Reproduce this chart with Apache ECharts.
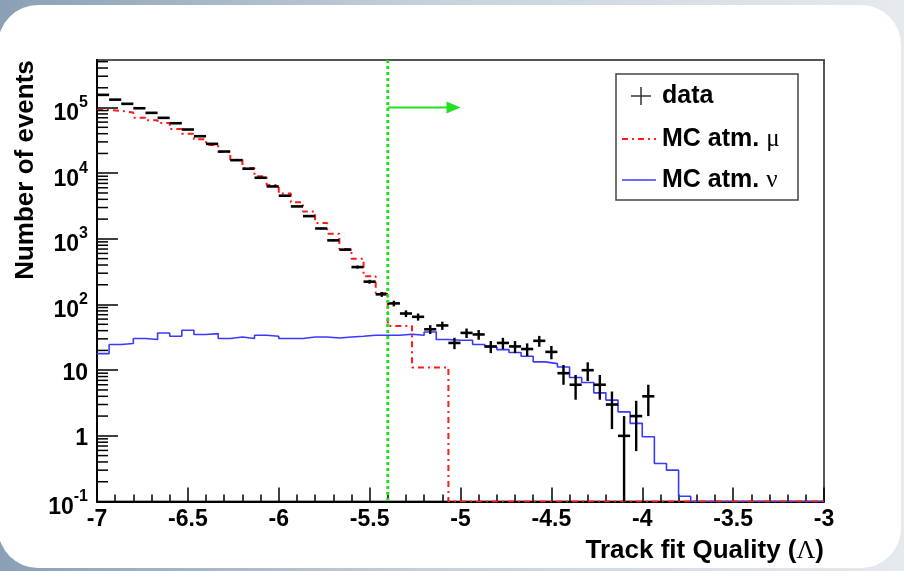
<!DOCTYPE html>
<html><head><meta charset="utf-8">
<script src="https://cdn.jsdelivr.net/npm/echarts@6/dist/echarts.min.js"></script>
<style>html,body{margin:0;padding:0;background:#fff}#c{width:904px;height:571px}</style>
</head><body><div id="c"></div>
<script>
// ---- histogram definition ----
const xMin = -7, xMax = -3, nBins = 60;
const yMin = 0.1, yMax = 5.3e5;
// ---- data (counts per bin) ----
const dataCounts = [156000,132000,114000,97600,83000,69700,57700,46300,36600,28000,
  21400,15800,11700,8530,6290,4540,3120,2220,1440,949,
  685,372,223,143,104,73,65,42,48,26,
  37,35,23,26,23,21,28,19,9,6,
  10,6,3,1,2,4,0,0,0,0,
  0,0,0,0,0,0,0,0,0,0];
const mcMu = [92000,89000,84000,70000,64000,58000,47000,40000,33000,27000,
  21000,16000,12000,9000,6600,4900,3600,2600,1750,1200,
  700,500,270,150,47,47,11,11,11,0,
  0,0,0,0,0,0,0,0,0,0,
  0,0,0,0,0,0,0,0,0,0,
  0,0,0,0,0,0,0,0,0,0];
const mcNu = [17.9,24.6,25.5,30.3,29.3,36.9,32.9,40.6,34.9,36.1,
  30.3,32.1,30.3,34.1,32.9,30.3,30.3,32.1,32.1,31.0,
  32.1,32.9,34.1,34.1,34.1,35.3,34.1,38.2,29.3,28.5,
  28.5,24.6,22.6,20.6,18.6,16.3,13.4,12.6,11.2,7.74,
  6.5,4.52,3.5,2.32,1.55,0.97,0.38,0.30,0.12,0,
  0,0,0,0,0,0,0,0,0,0];
const cutValue = -5.4, arrowEnd = -5.0, arrowLevel = 1e5;
const legendLabels = ['data', 'MC atm. ', 'μ', 'MC atm. ', 'ν'];
const xTitleParts = ['Track fit Quality (', 'Λ', ')'];
const yTitle = 'Number of events';

const FONT = 'Liberation Sans, Arial, Helvetica, sans-serif';
const SERIF = 'Liberation Serif, DejaVu Serif, serif';
const edges = [];
for (let i = 0; i <= nBins; i++) edges.push(xMin + i * (xMax - xMin) / nBins);
const clampY = v => (v > yMin ? v : yMin);
function stepData(vals) {
  const d = vals.map((v, i) => [edges[i], clampY(v)]);
  d.push([edges[nBins], clampY(vals[nBins - 1])]);
  return d;
}
const minorVals = [];
for (let e = -1; e <= 5; e++) for (let m = 2; m <= 9; m++) { const v = m * Math.pow(10, e); if (v < yMax) minorVals.push(v); }

const chart = echarts.init(document.getElementById('c'), null, {renderer: 'canvas'});
const option = {
  animation: false,
  grid: {left: 97, right: 80, top: 60, bottom: 69.5, show: true, borderColor: '#555', borderWidth: 2, backgroundColor: 'transparent'},
  xAxis: {
    type: 'value', min: xMin, max: xMax, interval: 0.5,
    axisLine: {show: true, onZero: false, lineStyle: {color: '#000', width: 2}},
    axisTick: {show: true, inside: true, length: 14, lineStyle: {color: '#000', width: 1.5}},
    minorTick: {show: true, splitNumber: 5, length: 7, lineStyle: {color: '#000', width: 1.5}},
    splitLine: {show: false},
    axisLabel: {fontFamily: FONT, fontWeight: 'bold', fontSize: 23, color: '#000', margin: 7}
  },
  yAxis: {
    type: 'log', logBase: 10, min: yMin, max: yMax,
    axisLine: {show: true, lineStyle: {color: '#000', width: 2}},
    axisTick: {show: true, inside: true, length: 21, lineStyle: {color: '#000', width: 1.5}},
    splitLine: {show: false},
    axisLabel: {
      margin: 9, showMaxLabel: false, color: '#000',
      formatter: v => {
        const e = Math.round(Math.log10(v));
        if (e === 0) return '{p|1}';
        if (e === 1) return '{p|10}';
        return '{b|10}{s|' + e + '}';
      },
      rich: {
        p: {fontFamily: FONT, fontWeight: 'bold', fontSize: 23, color: '#000', padding: [6, 0, 0, 0]},
        b: {fontFamily: FONT, fontWeight: 'bold', fontSize: 23, color: '#000', padding: [12, 0, 0, 0]},
        s: {fontFamily: FONT, fontWeight: 'bold', fontSize: 16, color: '#000', padding: [0, 0, 10, 0]}
      }
    }
  },
  series: [
    {
      name: 'MC atm. ν', type: 'line', step: 'end', showSymbol: false, symbol: 'none',
      data: stepData(mcNu), lineStyle: {color: '#3a3aff', width: 1.6}, z: 3
    },
    {
      name: 'MC atm. μ', type: 'line', step: 'end', showSymbol: false, symbol: 'none',
      data: stepData(mcMu), lineStyle: {color: '#ff1a1a', width: 2, type: [6, 4, 2, 4]}, z: 4
    },
    {
      name: 'data', type: 'custom', z: 6,
      data: dataCounts.map((n, i) => [edges[i], edges[i + 1], n]),
      encode: {x: [0, 1], y: 2},
      renderItem: (params, api) => {
        const lo = api.value(0), hi = api.value(1), n = api.value(2);
        if (!(n > 0)) return null;
        const e = Math.sqrt(n);
        const pL = api.coord([lo, n]), pR = api.coord([hi, n]);
        const xc = (pL[0] + pR[0]) / 2;
        const yT = api.coord([lo, n + e])[1];
        const yB = api.coord([lo, Math.max(n - e, yMin)])[1];
        return {type: 'group', children: [
          {type: 'line', shape: {x1: pL[0], y1: pL[1], x2: pR[0], y2: pR[1]}, style: {stroke: '#000', lineWidth: 2.6}},
          {type: 'line', shape: {x1: xc, y1: yT, x2: xc, y2: yB}, style: {stroke: '#000', lineWidth: 2.4}}
        ]};
      }
    },
    {
      name: 'minorY', type: 'custom', z: 7, silent: true,
      data: minorVals.map(v => [xMin, v]),
      encode: {x: 0, y: 1},
      renderItem: (params, api) => {
        const p = api.coord([api.value(0), api.value(1)]);
        return {type: 'line', shape: {x1: p[0], y1: p[1], x2: p[0] + 11, y2: p[1]}, style: {stroke: '#000', lineWidth: 1.5}};
      }
    },
    {
      name: 'cut', type: 'custom', z: 8, silent: true,
      data: [[cutValue, arrowEnd, arrowLevel]],
      encode: {x: [0, 1], y: 2},
      renderItem: (params, api) => {
        const c = api.value(0), a = api.value(1), lv = api.value(2);
        const top = api.coord([c, yMax]), bot = api.coord([c, yMin]);
        const p0 = api.coord([c, lv]), p1 = api.coord([a, lv]);
        return {type: 'group', children: [
          {type: 'line', shape: {x1: top[0], y1: top[1], x2: bot[0], y2: bot[1]}, style: {stroke: '#22e022', lineWidth: 3, lineDash: [3, 3]}},
          {type: 'line', shape: {x1: p0[0], y1: p0[1], x2: p1[0] - 12, y2: p1[1]}, style: {stroke: '#22e022', lineWidth: 2}},
          {type: 'polygon', shape: {points: [[p1[0] - 14, p1[1] - 6], [p1[0], p1[1]], [p1[0] - 14, p1[1] + 6]]}, style: {fill: '#22e022'}}
        ]};
      }
    }
  ],
  graphic: [
    {type: 'rect', z: -100, silent: true, shape: {x: 0, y: 0, width: 904, height: 571},
      style: {fill: {type: 'linear', x: 0, y: 0, x2: 1, y2: 0, colorStops: [{offset: 0, color: '#8aa0b6'}, {offset: 0.5, color: '#c9d3dd'}, {offset: 1, color: '#e6eaee'}]}}},
    {type: 'rect', z: -99, silent: true, shape: {x: -2, y: 5, width: 903, height: 563, r: 40}, style: {fill: '#fff'}},
    {type: 'text', z: 50, x: 26, y: 170, rotation: Math.PI / 2,
      style: {text: yTitle, font: 'bold 26px ' + FONT, fill: '#000', align: 'center', verticalAlign: 'middle'}},
    {type: 'text', z: 50, x: 824, y: 551,
      style: {text: '{b|' + xTitleParts[0] + '}{g|' + xTitleParts[1] + '}{b|' + xTitleParts[2] + '}', align: 'right', verticalAlign: 'middle',
        rich: {b: {fontFamily: FONT, fontWeight: 'bold', fontSize: 26, color: '#000'}, g: {fontFamily: SERIF, fontSize: 26, color: '#000'}}}},
    {type: 'group', z: 60, children: [
      {type: 'rect', shape: {x: 616, y: 74, width: 182, height: 126}, style: {fill: '#fff', stroke: '#444', lineWidth: 1.5}},
      {type: 'line', shape: {x1: 631, y1: 96, x2: 651, y2: 96}, style: {stroke: '#333', lineWidth: 1.5}},
      {type: 'line', shape: {x1: 641, y1: 87, x2: 641, y2: 105}, style: {stroke: '#333', lineWidth: 1.5}},
      {type: 'line', shape: {x1: 622, y1: 139, x2: 656, y2: 139}, style: {stroke: '#ff1a1a', lineWidth: 2, lineDash: [6, 4, 2, 4]}},
      {type: 'line', shape: {x1: 622, y1: 180, x2: 656, y2: 180}, style: {stroke: '#3a3aff', lineWidth: 1.6}},
      {type: 'text', x: 662, y: 96, style: {text: legendLabels[0], font: 'bold 25px ' + FONT, fill: '#000', verticalAlign: 'middle'}},
      {type: 'text', x: 662, y: 139, style: {text: '{b|' + legendLabels[1] + '}{g|' + legendLabels[2] + '}', verticalAlign: 'middle',
        rich: {b: {fontFamily: FONT, fontWeight: 'bold', fontSize: 25, color: '#000'}, g: {fontFamily: SERIF, fontSize: 25, color: '#000'}}}},
      {type: 'text', x: 662, y: 180, style: {text: '{b|' + legendLabels[3] + '}{g|' + legendLabels[4] + '}', verticalAlign: 'middle',
        rich: {b: {fontFamily: FONT, fontWeight: 'bold', fontSize: 25, color: '#000'}, g: {fontFamily: SERIF, fontSize: 25, color: '#000'}}}}
    ]}
  ]
};
chart.setOption(option);
</script></body></html>
